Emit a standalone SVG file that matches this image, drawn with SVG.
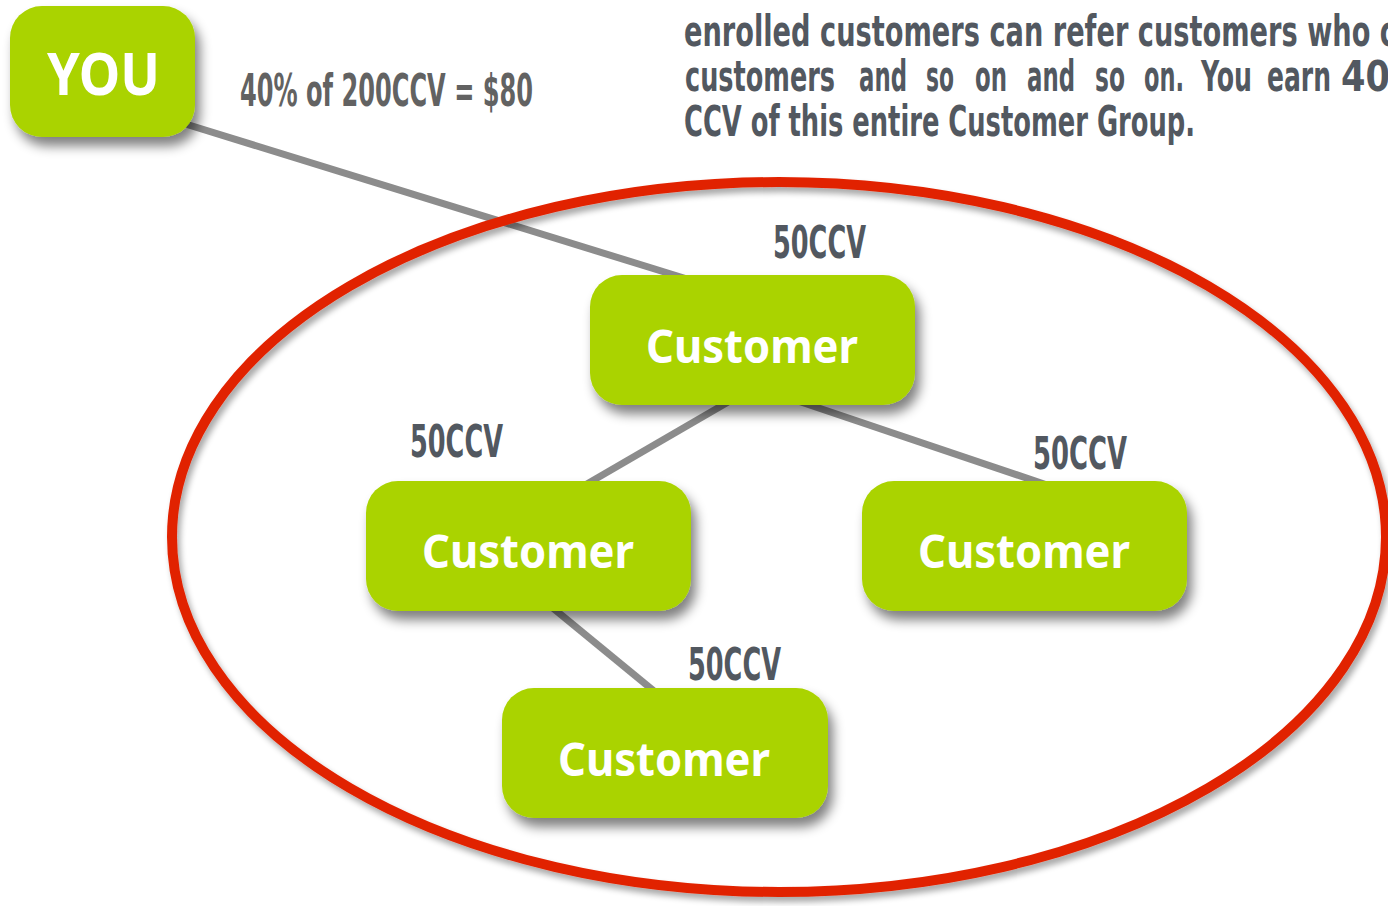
<svg xmlns="http://www.w3.org/2000/svg" width="1388" height="906" viewBox="0 0 1388 906">
  <style>
    .node { fill: #aad300; filter: url(#shadow); }
    .node-label { font-family: "Noto Sans", "Open Sans", sans-serif; font-weight: bold; fill: #ffffff; }
    .ccv { font-family: "DejaVu Sans Condensed", "DejaVu Sans", sans-serif; font-weight: bold; font-size: 44px; fill: #525860; }
    .para { font-family: "DejaVu Sans Condensed", "DejaVu Sans", sans-serif; font-weight: bold; font-size: 43px; fill: #525860; }
    .formula { font-family: "DejaVu Sans Condensed", "DejaVu Sans", sans-serif; font-weight: bold; font-size: 44px; fill: #626262; }
    .link { stroke: #8c8c8c; stroke-width: 7; fill: none; }
    .group-ring { fill: none; stroke: #e12400; stroke-width: 10; filter: url(#ringshadow); }
  </style>
  <defs>
    <filter id="shadow" x="-20%" y="-30%" width="150%" height="170%">
      <feGaussianBlur in="SourceAlpha" stdDeviation="6"/>
      <feOffset dx="5" dy="9" result="b"/>
      <feComponentTransfer><feFuncA type="linear" slope="0.5"/></feComponentTransfer>
      <feMerge><feMergeNode/><feMergeNode in="SourceGraphic"/></feMerge>
    </filter>
    <filter id="ringshadow" x="-10%" y="-10%" width="120%" height="120%">
      <feGaussianBlur in="SourceAlpha" stdDeviation="3"/>
      <feOffset dx="3" dy="5" result="b"/>
      <feComponentTransfer><feFuncA type="linear" slope="0.35"/></feComponentTransfer>
      <feMerge><feMergeNode/><feMergeNode in="SourceGraphic"/></feMerge>
    </filter>
  </defs>

  <rect width="1388" height="906" fill="#ffffff"/>

  <!-- explanatory paragraph (justified, runs past the right edge) -->
  <g id="paragraph" class="para">
    <text class="para" x="684" y="46" textLength="712" lengthAdjust="spacingAndGlyphs">enrolled customers can refer customers who c</text>
    <text class="para" x="685" y="91" textLength="150" lengthAdjust="spacingAndGlyphs">customers</text>
    <text class="para" x="859" y="91" textLength="48" lengthAdjust="spacingAndGlyphs">and</text>
    <text class="para" x="926" y="91" textLength="28" lengthAdjust="spacingAndGlyphs">so</text>
    <text class="para" x="975" y="91" textLength="32" lengthAdjust="spacingAndGlyphs">on</text>
    <text class="para" x="1027" y="91" textLength="48" lengthAdjust="spacingAndGlyphs">and</text>
    <text class="para" x="1095" y="91" textLength="30" lengthAdjust="spacingAndGlyphs">so</text>
    <text class="para" x="1144" y="91" textLength="40" lengthAdjust="spacingAndGlyphs">on.</text>
    <text class="para" x="1201" y="91" textLength="51" lengthAdjust="spacingAndGlyphs">You</text>
    <text class="para" x="1267" y="91" textLength="64" lengthAdjust="spacingAndGlyphs">earn</text>
    <text class="para" x="1341" y="91" textLength="49" lengthAdjust="spacingAndGlyphs">40</text>
    <text class="para" x="684" y="136" textLength="511" lengthAdjust="spacingAndGlyphs">CCV of this entire Customer Group.</text>
  </g>

  <!-- connectors -->
  <g id="connectors">
    <line class="link" x1="150" y1="113" x2="700" y2="283"/>
    <line class="link" x1="735" y1="398" x2="580" y2="488"/>
    <line class="link" x1="795" y1="400" x2="1050" y2="486"/>
    <line class="link" x1="548" y1="604" x2="660" y2="696"/>
  </g>

  <!-- customer group boundary -->
  <ellipse id="customer-group" class="group-ring" cx="779" cy="537" rx="607" ry="355"/>

  <g id="node-you">
    <rect class="node" x="10" y="6" width="185" height="131" rx="32"/>
    <text class="node-label" x="47" y="95" font-size="60" textLength="113" lengthAdjust="spacingAndGlyphs">YOU</text>
  </g>

  <g id="label-total">
    <text class="formula" x="240" y="106" textLength="293" lengthAdjust="spacingAndGlyphs">40% of 200CCV = $80</text>
  </g>

  <g id="node-customer-top">
    <rect class="node" x="590" y="275" width="325" height="130" rx="32"/>
    <text class="node-label" x="646" y="363" font-size="46" textLength="212" lengthAdjust="spacingAndGlyphs">Customer</text>
    <text class="ccv" x="773" y="258" textLength="93" lengthAdjust="spacingAndGlyphs">50CCV</text>
  </g>

  <g id="node-customer-left">
    <rect class="node" x="366" y="481" width="325" height="130" rx="32"/>
    <text class="node-label" x="422" y="568" font-size="46" textLength="212" lengthAdjust="spacingAndGlyphs">Customer</text>
    <text class="ccv" x="410" y="457" textLength="93" lengthAdjust="spacingAndGlyphs">50CCV</text>
  </g>

  <g id="node-customer-right">
    <rect class="node" x="862" y="481" width="325" height="130" rx="32"/>
    <text class="node-label" x="918" y="568" font-size="46" textLength="212" lengthAdjust="spacingAndGlyphs">Customer</text>
    <text class="ccv" x="1033" y="469" textLength="94" lengthAdjust="spacingAndGlyphs">50CCV</text>
  </g>

  <g id="node-customer-bottom">
    <rect class="node" x="502" y="688" width="326" height="130" rx="32"/>
    <text class="node-label" x="558" y="776" font-size="46" textLength="212" lengthAdjust="spacingAndGlyphs">Customer</text>
    <text class="ccv" x="688" y="680" textLength="93" lengthAdjust="spacingAndGlyphs">50CCV</text>
  </g>
</svg>
